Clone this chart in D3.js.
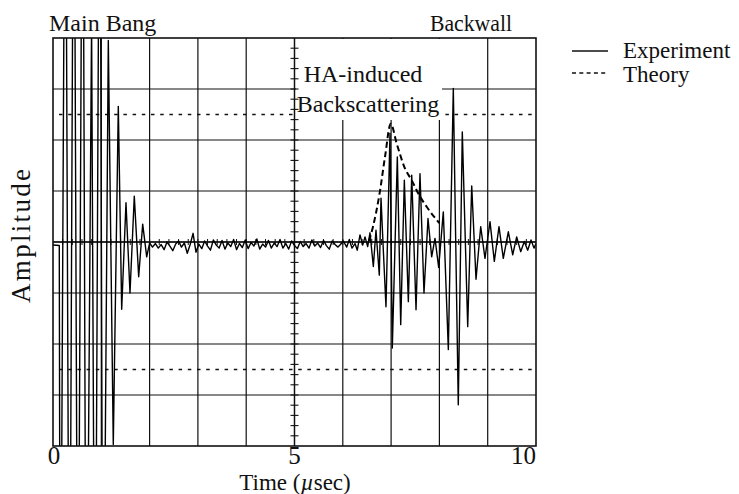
<!DOCTYPE html>
<html><head><meta charset="utf-8">
<script src="https://cdn.jsdelivr.net/npm/d3@7"></script>
<style>
html,body{margin:0;padding:0;background:#fff;}
svg text{font-family:"Liberation Serif","Times New Roman",serif;fill:#111;}
</style></head>
<body><svg id="c" width="739" height="494"></svg>
<script>
// ---- data (time in µs, amplitude in screen divisions) ----
const xTickValues = [0, 5, 10];
const xTickLabels = ["0", "5", "10"];
const theoryLevels = [2.5, -2.5];

const mainBang = [
  [0, -0.06], [0.13, -0.07], [0.151, -10], [0.255, 10], [0.340, -10], [0.431, 10],
  [0.516, -10], [0.613, 10], [0.689, -10], [0.799, 4.3], [0.870, -10], [0.969, 10],
  [1.035, -10], [1.145, 3.95], [1.248, -3.97], [1.352, 2.66], [1.422, -1.32],
  [1.511, 0.77], [1.594, -1.0], [1.683, 0.9], [1.774, -0.68], [1.857, 0.35], [1.940, -0.29]
];
const noise = [
  [2.00, -0.02], [2.06, -0.10], [2.12, -0.03], [2.18, -0.12], [2.24, -0.05], [2.30, -0.15],
  [2.36, 0.00], [2.42, -0.08], [2.48, -0.17], [2.54, -0.04], [2.60, 0.02], [2.66, -0.10],
  [2.72, -0.02], [2.78, -0.22], [2.84, -0.05], [2.90, 0.17], [2.96, -0.20], [3.02, -0.04],
  [3.08, -0.13], [3.14, 0.02], [3.20, -0.08], [3.26, -0.16], [3.32, 0.04], [3.38, -0.06],
  [3.44, -0.12], [3.50, 0.03], [3.56, -0.14], [3.62, -0.02], [3.68, -0.09], [3.74, 0.05],
  [3.80, -0.15], [3.86, -0.03], [3.92, -0.11], [3.98, 0.04], [4.04, -0.13], [4.10, -0.01],
  [4.16, -0.08], [4.22, 0.06], [4.28, -0.14], [4.34, -0.04], [4.40, -0.10], [4.46, 0.03],
  [4.52, -0.12], [4.58, -0.02], [4.64, -0.09], [4.70, 0.05], [4.76, -0.12], [4.82, -0.03],
  [4.88, -0.14], [4.94, 0.02], [5.00, -0.07], [5.06, -0.13], [5.12, 0.01], [5.18, -0.09],
  [5.24, -0.03], [5.30, -0.12], [5.36, 0.04], [5.42, -0.08], [5.48, -0.02], [5.54, -0.11],
  [5.60, 0.03], [5.66, -0.07], [5.72, -0.14], [5.78, 0.02], [5.84, -0.05], [5.90, -0.10]
];
const echo = [
  [5.942, -0.06], [6.011, 0.02], [6.081, -0.10], [6.135, 0.05], [6.190, -0.12], [6.253, -0.03],
  [6.300, -0.16], [6.356, 0.14], [6.412, -0.06], [6.460, 0.10], [6.515, -0.09], [6.563, 0.18],
  [6.632, -0.48], [6.687, 0.23], [6.756, -0.65], [6.791, 0.86], [6.839, -0.16], [6.894, -1.27],
  [6.977, 2.13], [7.025, -2.08], [7.129, 1.67], [7.199, -1.62], [7.274, 1.21], [7.357, -1.17],
  [7.427, 1.31], [7.516, -1.33], [7.598, 1.34], [7.681, -1.0], [7.764, 0.46], [7.840, -0.29],
  [7.909, 0.07], [7.985, -0.50]
];
const backwall = [
  [8.081, 0.59], [8.185, -2.11], [8.288, 3.01], [8.391, -3.19], [8.474, 2.16], [8.586, -1.66],
  [8.669, 1.10], [8.758, -0.73], [8.855, 0.30], [8.944, -0.32], [9.048, 0.40], [9.137, -0.38],
  [9.234, 0.30], [9.323, -0.32], [9.427, 0.20], [9.518, -0.25], [9.600, 0.10], [9.683, -0.19],
  [9.758, 0.01], [9.828, -0.16], [9.897, 0.04], [9.959, -0.12], [10.0, -0.03]
];
const experiment = [].concat(mainBang, noise, echo, backwall);

const theory = [
  [6.542, 0.02], [6.625, 0.30], [6.756, 0.92], [6.874, 1.67], [6.992, 2.32], [7.116, 1.93],
  [7.288, 1.44], [7.427, 1.21], [7.563, 0.95], [7.737, 0.69], [7.998, 0.37]
];

// ---- drawing ----
const svg = d3.select("#c");
const x = d3.scaleLinear().domain([0, 10]).range([53, 536]);
const y = d3.scaleLinear().domain([-4, 4]).range([446, 38]);
const ink = "#111";

svg.append("defs").append("clipPath").attr("id", "plotclip")
  .append("rect").attr("x", x(0)).attr("y", y(4)).attr("width", x(10) - x(0)).attr("height", y(-4) - y(4));

// graticule
const g = svg.append("g");
g.selectAll("line.vx").data(d3.range(1, 10)).join("line")
  .attr("x1", d => x(d)).attr("x2", d => x(d)).attr("y1", y(4)).attr("y2", y(-4))
  .attr("stroke", ink).attr("stroke-width", 1.2);
g.selectAll("line.hy").data(d3.range(-3, 4)).join("line")
  .attr("y1", d => y(d)).attr("y2", d => y(d)).attr("x1", x(0)).attr("x2", x(10))
  .attr("stroke", ink).attr("stroke-width", 1.2);
g.selectAll("line.lvl").data(theoryLevels).join("line")
  .attr("y1", d => y(d)).attr("y2", d => y(d)).attr("x1", x(0) + 6).attr("x2", x(10))
  .attr("stroke", ink).attr("stroke-width", 1.3).attr("stroke-dasharray", "3.5,5.7");

// label box (hides grid behind annotation)
svg.append("rect").attr("x", 296).attr("y", y(4) + 1).attr("width", 146).attr("height", 81).attr("fill", "#fff");

// center cross with minor ticks
svg.append("line").attr("x1", x(5)).attr("x2", x(5)).attr("y1", y(4)).attr("y2", y(-4)).attr("stroke", ink).attr("stroke-width", 1.3);
svg.append("line").attr("x1", x(0)).attr("x2", x(10)).attr("y1", y(0)).attr("y2", y(0)).attr("stroke", ink).attr("stroke-width", 1.3);
svg.selectAll("line.ty").data(d3.range(-19, 20).map(i => i / 5)).join("line")
  .attr("x1", x(5) - 4).attr("x2", x(5) + 4).attr("y1", d => y(d)).attr("y2", d => y(d))
  .attr("stroke", ink).attr("stroke-width", 1.1);
svg.selectAll("line.tx").data(d3.range(1, 50).map(i => i / 5)).join("line")
  .attr("y1", y(0) - 3).attr("y2", y(0) + 3).attr("x1", d => x(d)).attr("x2", d => x(d))
  .attr("stroke", ink).attr("stroke-width", 1.0);

// signals
const line = d3.line().x(d => x(d[0])).y(d => y(d[1]));
svg.append("path").datum(experiment).attr("clip-path", "url(#plotclip)")
  .attr("d", line).attr("fill", "none").attr("stroke", "#000").attr("stroke-width", 1.4)
  .attr("stroke-linejoin", "round");
svg.append("path").datum(theory).attr("d", d3.line().x(d => x(d[0])).y(d => y(d[1])).curve(d3.curveMonotoneX))
  .attr("fill", "none").attr("stroke", "#000").attr("stroke-width", 2).attr("stroke-dasharray", "6,3.5");

// frame
svg.append("rect").attr("x", x(0)).attr("y", y(4)).attr("width", x(10) - x(0)).attr("height", y(-4) - y(4))
  .attr("fill", "none").attr("stroke", ink).attr("stroke-width", 1.6);

// axis labels
const fs = 24;
svg.selectAll("text.xt").data(xTickValues).join("text")
  .attr("x", (d, i) => i === 2 ? x(d) : x(d) + (i === 0 ? 1 : 0))
  .attr("y", 464).attr("text-anchor", (d, i) => i === 2 ? "end" : "middle")
  .attr("font-size", 25).text((d, i) => xTickLabels[i]);
const tl = svg.append("text").attr("x", 295).attr("y", 490).attr("text-anchor", "middle").attr("font-size", 23);
tl.append("tspan").text("Time (");
tl.append("tspan").attr("font-style", "italic").text("\u00b5");
tl.append("tspan").text("sec)");
svg.append("text").attr("transform", "translate(30,236) rotate(-90)").attr("text-anchor", "middle")
  .attr("font-size", 27).attr("textLength", 134).attr("lengthAdjust", "spacing").text("Amplitude");

// annotations
svg.append("text").attr("x", 49).attr("y", 31).attr("font-size", fs).text("Main Bang");
svg.append("text").attr("x", 430).attr("y", 31).attr("font-size", fs).attr("textLength", 82).attr("lengthAdjust", "spacingAndGlyphs").text("Backwall");
svg.append("text").attr("x", 363).attr("y", 82).attr("text-anchor", "middle").attr("font-size", fs).text("HA-induced");
svg.append("text").attr("x", 368).attr("y", 112).attr("text-anchor", "middle").attr("font-size", fs).text("Backscattering");

// legend
svg.append("line").attr("x1", 572).attr("x2", 608).attr("y1", 51).attr("y2", 51).attr("stroke", ink).attr("stroke-width", 1.3);
svg.append("text").attr("x", 623).attr("y", 58).attr("font-size", 23).text("Experiment");
svg.append("line").attr("x1", 572).attr("x2", 608).attr("y1", 73).attr("y2", 73).attr("stroke", ink).attr("stroke-width", 1.3).attr("stroke-dasharray", "4,3.3");
svg.append("text").attr("x", 623).attr("y", 82).attr("font-size", 23).text("Theory");
</script></body></html>
